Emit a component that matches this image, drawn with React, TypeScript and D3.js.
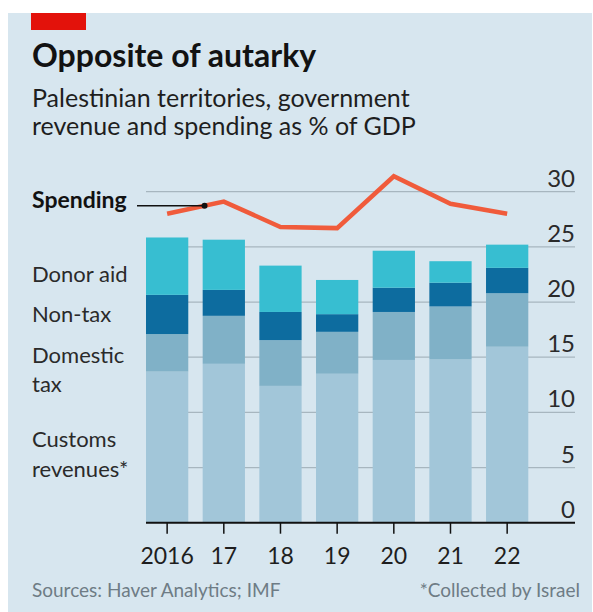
import * as d3 from "d3"

// Palestinian territories, government revenue and spending, % of GDP
const years = [2016, 2017, 2018, 2019, 2020, 2021, 2022]
const yearLabels = ["2016", "17", "18", "19", "20", "21", "22"]
const customs = [13.7, 14.4, 12.4, 13.5, 14.75, 14.8, 15.95]
const domesticTax = [3.4, 4.35, 4.15, 3.8, 4.35, 4.8, 4.85]
const nonTax = [3.55, 2.35, 2.55, 1.6, 2.2, 2.15, 2.3]
const donorAid = [5.2, 4.55, 4.2, 3.1, 3.35, 1.95, 2.1]
const spending = [28.0, 29.1, 26.8, 26.7, 31.4, 28.9, 28.0]
const yTicks = [0, 5, 10, 15, 20, 25, 30]

const seriesKeys = ["customs", "domestic", "nontax", "donor"]
const colors: Record<string, string> = {
  customs: "#a2c6d9",
  domestic: "#80b1c7",
  nontax: "#0d6c9f",
  donor: "#37bed1",
}

const W = 593
const H = 612
const font = "Lato, 'Noto Sans', sans-serif"

const App = () => {
  const rows = years.map((year, i) => ({
    year,
    customs: customs[i],
    domestic: domesticTax[i],
    nontax: nonTax[i],
    donor: donorAid[i],
  }))
  const stacked = d3.stack<any>().keys(seriesKeys)(rows)

  const x = d3
    .scaleBand<number>()
    .domain(years)
    .range([146, 528.3])
    .paddingInner(0.254)
    .paddingOuter(0)
  const y = d3.scaleLinear().domain([0, 30]).range([522.7, 191.7])
  const cx = (yr: number) => (x(yr) || 0) + x.bandwidth() / 2

  const line = d3
    .line<number>()
    .x((_, i) => cx(years[i]))
    .y(d => y(d))

  // leader dot sits on the spending line, between 2016 and 2017
  const t = 0.66
  const dotX = cx(years[0]) + t * (cx(years[1]) - cx(years[0]))
  const dotY = y(d3.interpolateNumber(spending[0], spending[1])(t))

  const gridLeft = 146
  const gridRight = 575

  return (
    <svg
      width={W}
      height={H}
      style={{ position: "absolute", left: 0, top: 0 }}
      fontFamily={font}
    >
      <rect x={0} y={0} width={W} height={H} fill="#ffffff" />
      <rect x={8} y={13} width={584} height={599} fill="#d7e6ef" />
      <rect x={31} y={13} width={55} height={17} fill="#e3120b" />

      <text x={32} y={67} fontSize={32} fontWeight={700} fill="#121212">
        Opposite of autarky
      </text>
      <text x={32} y={107} fontSize={25} fill="#1e1e1e">
        Palestinian territories, government
      </text>
      <text x={32} y={135} fontSize={25} fill="#1e1e1e">
        revenue and spending as % of GDP
      </text>

      {/* gridlines */}
      {yTicks
        .filter(v => v > 0)
        .map(v => (
          <line
            key={v}
            x1={gridLeft}
            x2={gridRight}
            y1={y(v)}
            y2={y(v)}
            stroke="#a7b6bf"
            strokeWidth={1.2}
          />
        ))}
      {yTicks.map(v => (
        <text
          key={v}
          x={gridRight}
          y={y(v) - 5}
          textAnchor="end"
          fontSize={24}
          fill="#2a2a2a"
        >
          {v}
        </text>
      ))}

      {/* stacked bars */}
      {stacked.map(s => (
        <g key={s.key} fill={colors[s.key]}>
          {s.map((d, i) => (
            <rect
              key={i}
              x={x(years[i])}
              y={y(d[1])}
              width={x.bandwidth()}
              height={y(d[0]) - y(d[1])}
            />
          ))}
        </g>
      ))}

      {/* spending line */}
      <path
        d={line(spending) || ""}
        fill="none"
        stroke="#f05b3b"
        strokeWidth={4.5}
        strokeLinejoin="miter"
      />
      <line x1={137} x2={dotX} y1={dotY} y2={dotY} stroke="#111" strokeWidth={1.5} />
      <circle cx={dotX} cy={dotY} r={3} fill="#111" />
      <text x={32} y={208} fontSize={23} fontWeight={700} fill="#121212">
        Spending
      </text>

      {/* baseline and x axis */}
      <line x1={gridLeft} x2={gridRight} y1={y(0)} y2={y(0)} stroke="#111" strokeWidth={2} />
      {years.map((yr, i) => (
        <g key={yr}>
          <line x1={cx(yr)} x2={cx(yr)} y1={y(0)} y2={y(0) + 11} stroke="#111" strokeWidth={1.5} />
          <text x={cx(yr)} y={564} textAnchor="middle" fontSize={23} fill="#1e1e1e">
            {yearLabels[i]}
          </text>
        </g>
      ))}

      {/* series labels */}
      <g fontSize={22} fill="#2a2a2a">
        <text x={32} y={282}>Donor aid</text>
        <text x={32} y={322}>Non-tax</text>
        <text x={32} y={363}>Domestic</text>
        <text x={32} y={392}>tax</text>
        <text x={32} y={447}>Customs</text>
        <text x={32} y={477}>revenues*</text>
      </g>

      {/* footer */}
      <text x={32} y={597} fontSize={19} fill="#6e7c85">
        Sources: Haver Analytics; IMF
      </text>
      <text x={580} y={597} textAnchor="end" fontSize={19} fill="#6e7c85">
        *Collected by Israel
      </text>
    </svg>
  )
}

export default App
